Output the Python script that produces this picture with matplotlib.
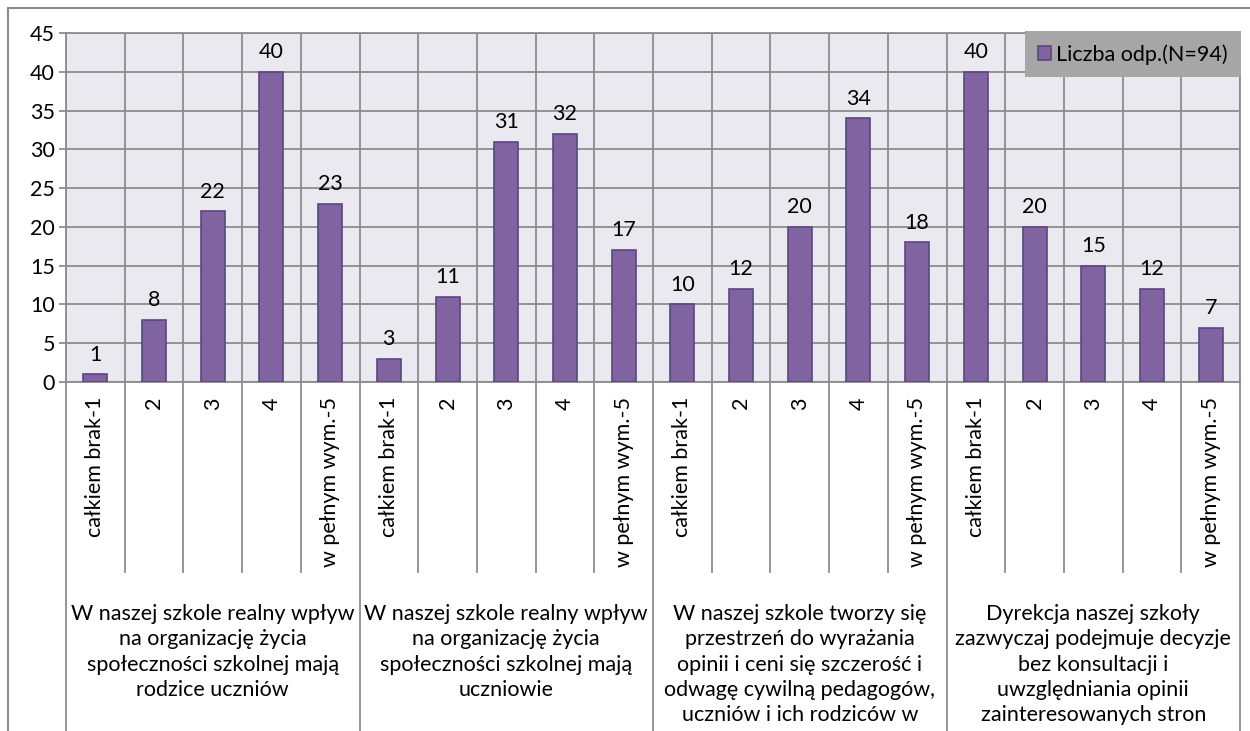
import matplotlib.pyplot as plt
from matplotlib.transforms import blended_transform_factory
from matplotlib.lines import Line2D

# data
answers = ["całkiem brak-1", "2", "3", "4", "w pełnym wym.-5"]
groups = [
    "W naszej szkole realny wpływ\nna organizację życia\nspołeczności szkolnej mają\nrodzice uczniów",
    "W naszej szkole realny wpływ\nna organizację życia\nspołeczności szkolnej mają\nuczniowie",
    "W naszej szkole tworzy się\nprzestrzeń do wyrażania\nopinii i ceni się szczerość i\nodwagę cywilną pedagogów,\nuczniów i ich rodziców w",
    "Dyrekcja naszej szkoły\nzazwyczaj podejmuje decyzje\nbez konsultacji i\nuwzględniania opinii\nzainteresowanych stron",
]
counts = [1, 8, 22, 40, 23,
          3, 11, 31, 32, 17,
          10, 12, 20, 34, 18,
          40, 20, 15, 12, 7]
series_name = "Liczba odp.(N=94)"

bar_color = "#8064A2"
edge_color = "#5C4680"
grid_color = "#8C8C8C"
fs = 15.5

plt.rcParams["font.family"] = ["Lato", "DejaVu Sans"]

W, H = 1250, 731
fig = plt.figure(figsize=(W / 100, H / 100), dpi=100)
x0, x1, ytop, ybot = 66, 1240, 33, 382
ax = fig.add_axes([x0 / W, 1 - ybot / H, (x1 - x0) / W, (ybot - ytop) / H])
ax.set_facecolor("#EBE9F0")

n = len(counts)
xs = [i + 0.5 for i in range(n)]
bars = ax.bar(xs, counts, width=0.41, color=bar_color, edgecolor=edge_color,
              linewidth=1.2, zorder=3, label=series_name)
for x, v in zip(xs, counts):
    ax.annotate(str(v), (x, v), xytext=(0, 7), textcoords="offset points",
                ha="center", va="bottom", fontsize=fs, color="black")

ax.set_xlim(0, n)
ax.set_ylim(0, 45)
ax.set_yticks(range(0, 46, 5))
ax.tick_params(axis="y", length=5, width=1.3, color=grid_color, labelsize=fs, pad=3)
ax.set_xticks([])
ax.yaxis.grid(True, color=grid_color, linewidth=1.3, zorder=0)
for i in range(n + 1):
    ax.axvline(i, color=grid_color, linewidth=1.3, zorder=1)
for s in ax.spines.values():
    s.set_color(grid_color)
    s.set_linewidth(1.3)
ax.set_axisbelow(True)

# multi-level category axis
tr = blended_transform_factory(ax.transData, ax.transAxes)
ph = ybot - ytop
for i in range(n + 1):
    low = -1.05 if i % 5 == 0 else -(572 - ybot) / ph
    ax.add_line(Line2D([i, i], [0, low], transform=tr, color=grid_color,
                       linewidth=1.3, clip_on=False))
for i, x in enumerate(xs):
    ax.text(x, -(397 - ybot) / ph, answers[i % 5], transform=tr, rotation=90,
            ha="center", va="top", fontsize=fs)
for g, label in enumerate(groups):
    ax.text(g * 5 + 2.5, -(604 - ybot) / ph, label, transform=tr,
            ha="center", va="top", fontsize=fs, linespacing=1.33)

leg = ax.legend(loc="upper right", bbox_to_anchor=(1241 / W, 1 - 31 / H),
                bbox_transform=fig.transFigure, fontsize=fs, frameon=True,
                fancybox=False, facecolor="#A6A6A6", edgecolor="none",
                framealpha=1, borderpad=0.6, handlelength=0.6,
                handleheight=0.6, handletextpad=0.25, borderaxespad=0)

# outer chart border
fig.add_artist(Line2D([8 / W, 8 / W], [0, 1 - 8 / H], transform=fig.transFigure,
                      color=grid_color, linewidth=1.5))
fig.add_artist(Line2D([8 / W, 1], [1 - 8 / H, 1 - 8 / H], transform=fig.transFigure,
                      color=grid_color, linewidth=1.5))

fig.savefig("out.png", dpi=100)
